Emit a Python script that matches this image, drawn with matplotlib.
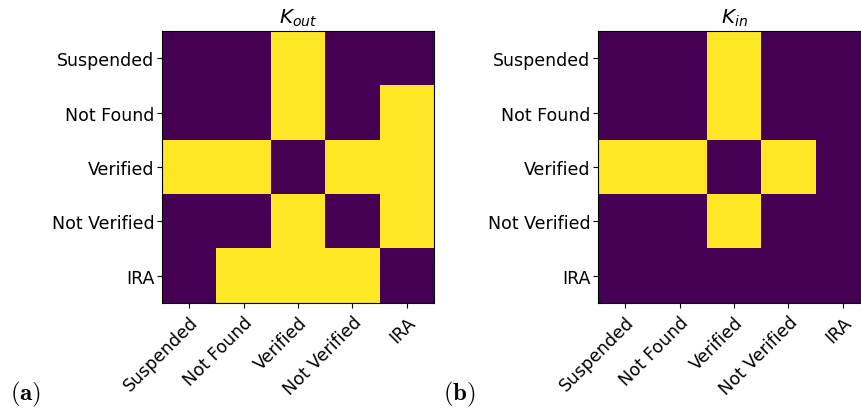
import matplotlib
matplotlib.use("Agg")
import matplotlib.pyplot as plt
import numpy as np

# Etiquettes des catégories
categories = ["Suspended", "Not Found", "Verified", "Not Verified", "IRA"]

# Matrices (lignes = axe y, colonnes = axe x)
k_out = [
    [0, 0, 1, 0, 0],
    [0, 0, 1, 0, 1],
    [1, 1, 0, 1, 1],
    [0, 0, 1, 0, 1],
    [0, 1, 1, 1, 0],
]
k_in = [
    [0, 0, 1, 0, 0],
    [0, 0, 1, 0, 0],
    [1, 1, 0, 1, 0],
    [0, 0, 1, 0, 0],
    [0, 0, 0, 0, 0],
]

titres = [r"$K_{out}$", r"$K_{in}$"]
lettres = ["(a)", "(b)"]

plt.rcParams["font.size"] = 12.5
plt.rcParams["mathtext.fontset"] = "dejavusans"
plt.rcParams["ytick.major.pad"] = 2

W, H = 862, 410
fig = plt.figure(figsize=(W / 100, H / 100), dpi=100)

# positions des axes en pixels (gauche, bas, largeur, hauteur)
boites = [(162, 106, 272, 272), (598, 106, 272, 272)]

for matrice, titre, boite in zip([k_out, k_in], titres, boites):
    x, y, w, h = boite
    axes = fig.add_axes([x / W, y / H, w / W, h / H])
    axes.imshow(np.array(matrice), cmap="viridis", vmin=0, vmax=1)
    axes.set_xticks(range(len(categories)))
    axes.set_yticks(range(len(categories)))
    axes.set_xticklabels(categories, rotation=45, ha="right", rotation_mode="anchor")
    axes.set_yticklabels(categories)
    axes.set_title(titre, fontsize=14.4)

# lettres (a) et (b) en police de type LaTeX
for lettre, xpos in zip(lettres, [10, 443]):
    fig.text(xpos / W, 10 / H, r"$\mathbf{" + lettre + "}$",
             fontsize=18, math_fontfamily="cm", ha="left", va="baseline")

fig.savefig("out.png", dpi=100)
